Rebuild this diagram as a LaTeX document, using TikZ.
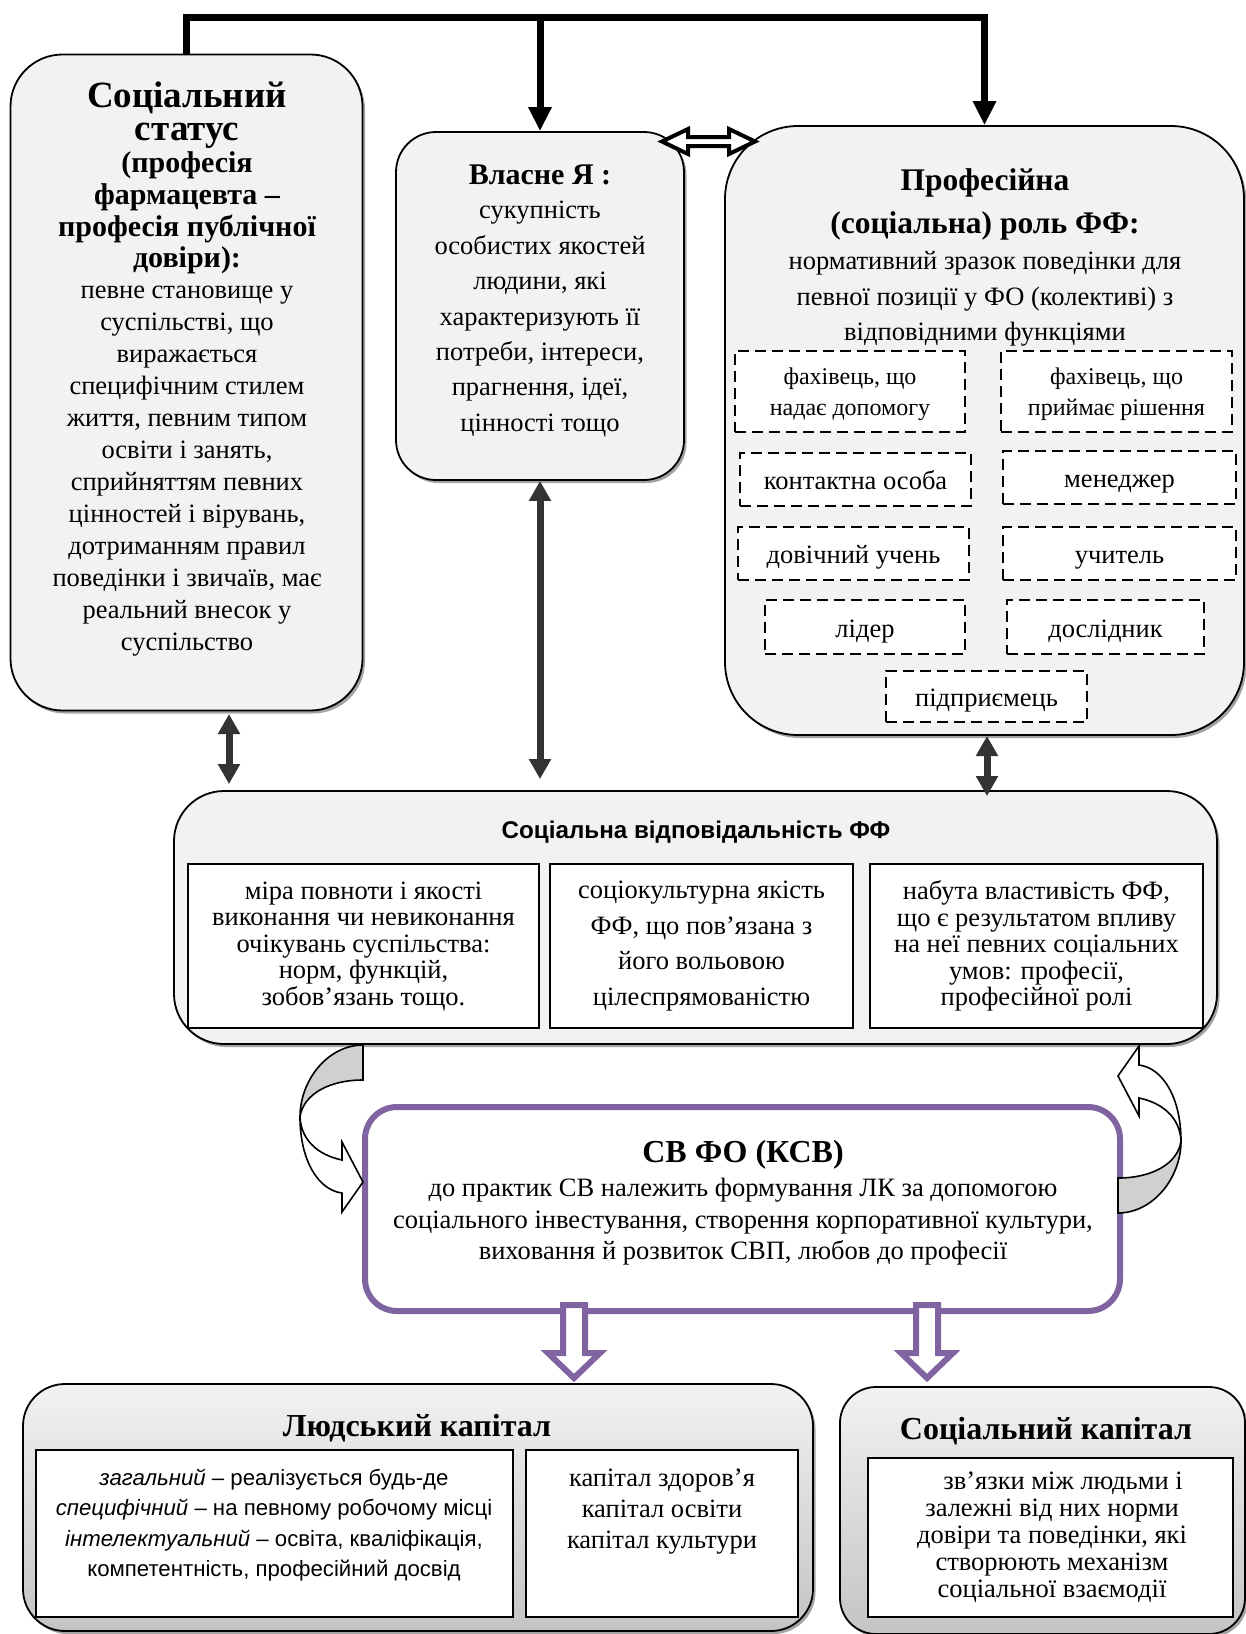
\documentclass[tikz,border=0pt]{standalone}
\usepackage{fontspec}
\setmainfont{Liberation Serif}
\newfontfamily\arialfont{Liberation Sans}
\usepackage{tikz}
\usetikzlibrary{positioning, arrows.meta, shadows}
\definecolor{boxgray}{HTML}{F2F2F2}
\definecolor{gradgray}{HTML}{C4C4C4}
\definecolor{ribbongray}{HTML}{D0D0D0}
\definecolor{csrpurple}{HTML}{8064A2}
\definecolor{arrowdark}{HTML}{333333}
\tikzset{
  graybox/.style={rectangle, rounded corners=#1, draw=black, line width=1.8pt, fill=boxgray, inner sep=0pt,
    drop shadow={shadow xshift=2.5pt, shadow yshift=-3pt, fill=black!45, opacity=0.8}},
  gradbox/.style={graybox=#1, top color=boxgray, bottom color=gradgray},
  csrbox/.style={rectangle, rounded corners=32pt, draw=csrpurple, line width=6pt, fill=white, inner sep=0pt},
  plainbox/.style={rectangle, draw=black, line width=1.5pt, fill=white, inner sep=0pt, align=center},
  dashbox/.style={rectangle, draw=black, line width=2.5pt, dash pattern=on 11pt off 6pt, fill=white, inner sep=0pt, align=center, font=\fontsize{26.5}{31}\selectfont},
  oneline/.style={text height=26pt, text depth=6pt},
  headtext/.style={font=\bfseries\fontsize{#1}{#1}\selectfont, align=center, inner sep=0pt},
  bodytext/.style={font=\fontsize{26.5}{#1}\selectfont, align=center, inner sep=0pt},
  busline/.style={line width=7pt, draw=black, -{Triangle[length=24pt,width=22pt]}},
  twoway/.style={line width=7pt, draw=arrowdark, {Triangle[length=20pt,width=21pt]}-{Triangle[length=20pt,width=21pt]}},
  hollow/.style={draw=black, line width=4pt, fill=white, miter limit=10},
  purpledown/.style={draw=csrpurple, line width=6pt, fill=white},
  ribbon/.style={draw=black, line width=1.6pt}
}
% curved ribbon arrow, tail at the origin
\newcommand{\ribbonarrow}{%
  \draw[ribbon, fill=ribbongray] (0,0) .. controls (-35,0) and (-63,35) .. (-63,72)
    .. controls (-60,50) and (-35,35) .. (0,35) -- cycle;
  \draw[ribbon, fill=white] (-63,72) .. controls (-63,115) and (-45,145) .. (-21,148)
    -- (-21,167) -- (0,137) -- (-21,97) -- (-21,115)
    .. controls (-45,110) and (-62,95) .. (-63,72) -- cycle;
}
\begin{document}
\begin{tikzpicture}[x=1pt, y=-1pt]
  \useasboundingbox (0,0) rectangle (1246,1634);
  \fill[white] (0,0) rectangle (1246,1634);

  % 1. Top row of boxes
  \node[graybox=52pt, minimum width=352pt, minimum height=656pt] (status) at (186.5,382.5) {};
  \node[graybox=40pt, minimum width=288pt, minimum height=348pt] (self) at (540,306) {};
  \node[graybox=73pt, minimum width=519pt, minimum height=609pt] (role) at (984.5,430.5) {};

  \node[headtext=37, font=\bfseries\fontsize{37}{33.5}\selectfont] (statustitle) at (187,115) {Соціальний\\статус};
  \node[headtext=30, font=\bfseries\fontsize{30}{31.7}\selectfont] (statussub) at (187,213) {(професія\\фармацевта –\\професія публічної\\довіри):};
  \node[bodytext=32] (statustext) at (187,471.5) {певне становище у\\суспільстві, що\\виражається\\специфічним стилем\\життя, певним типом\\освіти і занять,\\сприйняттям певних\\цінностей і вірувань,\\дотриманням правил\\поведінки і звичаїв, має\\реальний внесок у\\суспільство};

  \node[headtext=30] (selftitle) at (540,174.5) {Власне Я :};
  \node[bodytext=35.4] (selftext) at (540,319) {сукупність\\особистих якостей\\людини, які\\характеризують її\\потреби, інтереси,\\прагнення, ідеї,\\цінності тощо};

  \node[headtext=31.5, font=\bfseries\fontsize{31.5}{43}\selectfont] (roletitle) at (985,204.5) {Професійна\\(соціальна) роль ФФ:};
  \node[bodytext=35.4] (roletext) at (985,299) {нормативний зразок поведінки для\\певної позиції у ФО (колективі) з\\відповідними функціями};

  % dashed role boxes
  \node[dashbox, minimum width=230pt, minimum height=81pt, font=\fontsize{24}{31}\selectfont] (helper) at (850,391.5) {\rule{0pt}{23pt}фахівець, що\\надає допомогу};
  \node[dashbox, minimum width=231pt, minimum height=81pt, font=\fontsize{24}{31}\selectfont] (decider) at (1116.5,391.5) {\rule{0pt}{23pt}фахівець, що\\приймає рішення};
  \node[dashbox, oneline, minimum width=231pt, minimum height=53pt] (contact) at (855.5,479.5) {контактна особа};
  \node[dashbox, oneline, minimum width=233pt, minimum height=53pt] (manager) at (1119.5,477.5) {менеджер};
  \node[dashbox, oneline, minimum width=231pt, minimum height=53pt] (learner) at (853.5,553.5) {довічний учень};
  \node[dashbox, oneline, minimum width=233pt, minimum height=53pt] (teacher) at (1119.5,553.5) {учитель};
  \node[dashbox, oneline, minimum width=200pt, minimum height=54pt] (leader) at (865,627) {лідер};
  \node[dashbox, oneline, minimum width=197pt, minimum height=54pt] (researcher) at (1105.5,627) {дослідник};
  \node[dashbox, oneline, minimum width=201pt, minimum height=51pt] (entrepreneur) at (986.5,696.5) {підприємець};

  % 2. Social responsibility
  \node[graybox=50pt, minimum width=1043pt, minimum height=253pt] (srbox) at (695.5,917.5) {};
  \node[inner sep=0pt, font=\arialfont\bfseries\fontsize{24.2}{24.2}\selectfont] (srtitle) at (696,832) {Соціальна відповідальність ФФ};
  \node[plainbox, minimum width=351pt, minimum height=164pt, font=\fontsize{26.5}{26.5}\selectfont] (measure) at (363.5,946) {міра повноти і якості\\виконання чи невиконання\\очікувань суспільства:\\норм, функцій,\\зобов’язань тощо.};
  \node[plainbox, minimum width=303pt, minimum height=164pt, font=\fontsize{26.5}{35.4}\selectfont] (quality) at (701.5,946) {соціокультурна якість\\ФФ, що пов’язана з\\його вольовою\\цілеспрямованістю};
  \node[plainbox, minimum width=333pt, minimum height=164pt, font=\fontsize{26.5}{26.5}\selectfont] (acquired) at (1036.5,946) {набута властивість ФФ,\\що є результатом впливу\\на неї певних соціальних\\умов: професії,\\професійної ролі};

  % 3. CSR box
  \node[csrbox, minimum width=755pt, minimum height=204pt] (csr) at (742.5,1209) {};
  \node[headtext=32] (csrtitle) at (743,1155) {СВ ФО (КСВ)};
  \node[bodytext=31.5] (csrtext) at (743,1222) {до практик СВ належить формування ЛК за допомогою\\соціального інвестування, створення корпоративної культури,\\виховання й розвиток СВП, любов до професії};

  % 4. Capitals
  \node[gradbox=42pt, minimum width=790pt, minimum height=247pt] (human) at (418,1507.5) {};
  \node[gradbox=36pt, minimum width=405pt, minimum height=247pt] (socialcap) at (1042.5,1510.5) {};
  \node[headtext=32] (humantitle) at (417,1428) {Людський капітал};
  \node[headtext=32] (socialtitle) at (1046,1431) {Соціальний капітал};
  \node[plainbox, line width=1.2pt, minimum width=477pt, minimum height=167pt] (kinds) at (274.5,1533.5) {};
  \node[plainbox, line width=1.2pt, minimum width=272pt, minimum height=167pt] (forms) at (662,1533.5) {};
  \node[plainbox, line width=1.2pt, minimum width=365pt, minimum height=159pt] (links) at (1050.5,1537.5) {};
  \node[inner sep=0pt, align=center, font=\arialfont\fontsize{22.2}{30.5}\selectfont] (kindstext) at (274,1525) {\textit{загальний} – реалізується будь-де\\\textit{специфічний} – на певному робочому місці\\\textit{інтелектуальний} – освіта, кваліфікація,\\компетентність, професійний досвід};
  \node[bodytext=31] (formstext) at (662,1512) {капітал здоров’я\\капітал освіти\\капітал культури};
  \node[bodytext=27] (linkstext) at (1052,1537) {\hspace*{22pt}зв’язки між людьми і\\залежні від них норми\\довіри та поведінки, які\\створюють механізм\\соціальної взаємодії};

  % 5. Connectors
  \coordinate (bustop) at (0,17);
  \draw[busline] (status.north) |- (bustop -| role.north) -- (role.north);
  \draw[busline] (bustop -| self.north) -- (self.north);

  \draw[hollow] (662,141.5) -- (688,129) -- (688,137) -- (729,137) -- (729,129) -- (755,141.5)
    -- (729,154) -- (729,146) -- (688,146) -- (688,154) -- cycle;

  \coordinate (leftfoot) at (229,711);
  \draw[twoway, shorten <=3pt, shorten >=6pt] (leftfoot) -- (leftfoot |- srbox.north);
  \draw[twoway, shorten >=11pt] (self.south) -- (self.south |- srbox.north);
  \coordinate (rightfoot) at (987,735);
  \draw[twoway, shorten <=1pt, shorten >=-6pt] (rightfoot) -- (rightfoot |- srbox.north);

  \begin{scope}[shift={(363,1045)}]
    \ribbonarrow
  \end{scope}
  \begin{scope}[shift={(1118,1213)}, rotate=180]
    \ribbonarrow
  \end{scope}

  \foreach \x in {574,927} {
    \draw[purpledown] (\x-11,1305) -- (\x-11,1353) -- (\x-26,1353) -- (\x,1378)
      -- (\x+26,1353) -- (\x+11,1353) -- (\x+11,1305) -- cycle;
  }
\end{tikzpicture}
\end{document}
